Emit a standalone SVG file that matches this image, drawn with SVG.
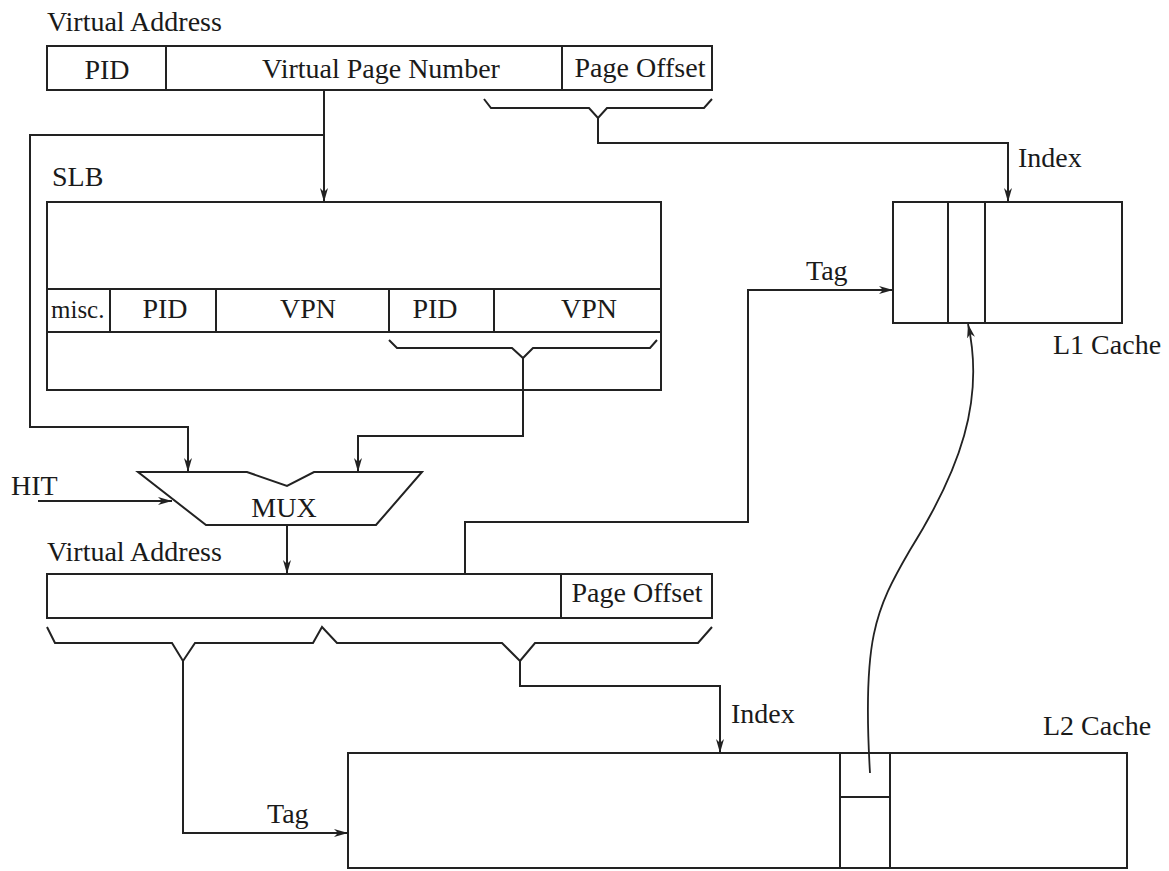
<svg xmlns="http://www.w3.org/2000/svg" width="1169" height="871" viewBox="0 0 1169 871">
  <style>
    .box { fill: none; stroke: #222; stroke-width: 2; }
    .wire { fill: none; stroke: #222; stroke-width: 2; stroke-linejoin: miter; }
    .lbl { font-family: "Liberation Serif", "Times New Roman", serif; font-size: 28px; fill: #1a1a1a; }
    .mid { text-anchor: middle; }
  </style>
  <defs>
    <marker id="arrow" markerUnits="userSpaceOnUse" viewBox="0 0 14 8" markerWidth="14" markerHeight="8" refX="14" refY="4" orient="auto">
      <path d="M0,0 L14,4 L0,8 L4,4 z" fill="#222"/>
    </marker>
  </defs>
  <rect width="1169" height="871" fill="#fff"/>

  <!-- Virtual address (input) -->
  <g id="va-top">
    <text class="lbl" x="47" y="31">Virtual Address</text>
    <rect class="box" x="47" y="46" width="665" height="44"/>
    <line class="box" x1="166" y1="46" x2="166" y2="90"/>
    <line class="box" x1="562" y1="46" x2="562" y2="90"/>
    <text class="lbl mid" x="107" y="79">PID</text>
    <text class="lbl mid" x="381" y="78">Virtual Page Number</text>
    <text class="lbl mid" x="640" y="77">Page Offset</text>
  </g>

  <!-- Segment lookaside buffer -->
  <g id="slb">
    <text class="lbl" x="52" y="186">SLB</text>
    <rect class="box" x="47" y="202" width="614" height="188"/>
    <line class="box" x1="47" y1="289" x2="661" y2="289"/>
    <line class="box" x1="47" y1="332" x2="661" y2="332"/>
    <line class="box" x1="110" y1="289" x2="110" y2="332"/>
    <line class="box" x1="216" y1="289" x2="216" y2="332"/>
    <line class="box" x1="389" y1="289" x2="389" y2="332"/>
    <line class="box" x1="494" y1="289" x2="494" y2="332"/>
    <text class="lbl" x="51" y="318" style="font-size:25px">misc.</text>
    <text class="lbl mid" x="165" y="318">PID</text>
    <text class="lbl mid" x="308" y="318">VPN</text>
    <text class="lbl mid" x="435" y="318">PID</text>
    <text class="lbl mid" x="589" y="318">VPN</text>
  </g>

  <!-- Multiplexer -->
  <g id="mux">
    <polygon class="box" points="138,472 247,472 287,486 314,472 422,472 376,525 206,525"/>
    <text class="lbl mid" x="284" y="517">MUX</text>
    <text class="lbl" x="11" y="495">HIT</text>
  </g>

  <!-- Virtual address (output) -->
  <g id="va-bottom">
    <text class="lbl" x="47" y="561">Virtual Address</text>
    <rect class="box" x="47" y="574" width="665" height="44"/>
    <line class="box" x1="561" y1="574" x2="561" y2="618"/>
    <text class="lbl mid" x="637" y="602">Page Offset</text>
  </g>

  <!-- L1 cache -->
  <g id="l1-cache">
    <rect class="box" x="893" y="202" width="229" height="121"/>
    <line class="box" x1="948" y1="202" x2="948" y2="323"/>
    <line class="box" x1="985" y1="202" x2="985" y2="323"/>
    <text class="lbl" x="1053" y="354">L1 Cache</text>
  </g>

  <!-- L2 cache -->
  <g id="l2-cache">
    <rect class="box" x="348" y="753" width="779" height="115"/>
    <line class="box" x1="840" y1="753" x2="840" y2="868"/>
    <line class="box" x1="890" y1="753" x2="890" y2="868"/>
    <line class="box" x1="840" y1="797" x2="890" y2="797"/>
    <text class="lbl" x="1043" y="735">L2 Cache</text>
  </g>

  <!-- Connectors and field braces -->
  <g id="connectors">
    <path class="wire" d="M324,90 V202" marker-end="url(#arrow)"/>
    <path class="wire" d="M324,135 H30 V427 H188 V472" marker-end="url(#arrow)"/>

    <path class="wire" d="M484,99 L491,108 H589 L598,118 L607,108 H704 L712,99"/>
    <path class="wire" d="M598,118 V143 H1008 V202" marker-end="url(#arrow)"/>
    <text class="lbl" x="1018" y="167">Index</text>

    <path class="wire" d="M389,340 L397,348 H512 L523,358 L533,348 H650 L657,340"/>
    <path class="wire" d="M523,358 V436 H358 V472" marker-end="url(#arrow)"/>

    <path class="wire" d="M38,501 H172" marker-end="url(#arrow)"/>
    <path class="wire" d="M287,525 V574" marker-end="url(#arrow)"/>

    <path class="wire" d="M465,574 V522 H748 V290 H893" marker-end="url(#arrow)"/>
    <text class="lbl" x="806" y="280">Tag</text>

    <path class="wire" d="M47,627 L55,643 H172 L183,661 L195,643 H313 L322,627 L337,643 H502 L520,661 L535,643 H698 L712,627"/>
    <path class="wire" d="M183,661 V833 H348" marker-end="url(#arrow)"/>
    <text class="lbl" x="267" y="823">Tag</text>
    <path class="wire" d="M520,661 V686 H720 V753" marker-end="url(#arrow)"/>
    <text class="lbl" x="731" y="723">Index</text>

    <path class="wire" style="stroke-width:1.8" d="M870,773 C862,640 875,610 910,550 C960,470 985,400 968,324" marker-end="url(#arrow)"/>
  </g>
</svg>
